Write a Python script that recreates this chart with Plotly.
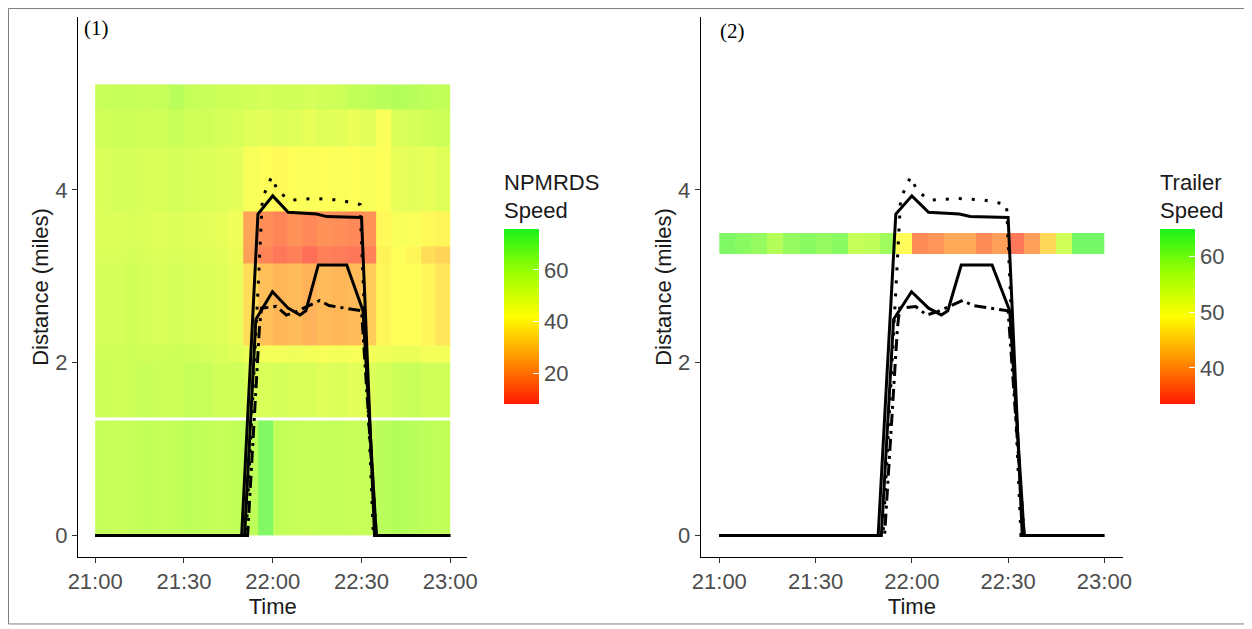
import pandas as pd
import plotly.graph_objects as go

# --- data -------------------------------------------------------------
day = "2019-06-01 "
bin_edges = pd.date_range(day + "21:00", day + "23:00", freq="5min")  # 24 five-minute bins

# NPMRDS segment boundaries (miles); the 1.33-1.37 strip is a gap between segments
seg_edges = [0, 1.33, 1.37, 2.0, 2.2, 3.15, 3.35, 3.75, 4.5, 4.93, 5.22]

npm_0_133 = [57, 56, 57, 58, 57, 58, 59, 58, 57, 58, 59, 71, 58, 57, 56, 57, 57, 56, 57, 60, 61, 60, 59, 58]
npm_gap = [None] * 24
npm_137_200 = [55, 54, 55, 56, 55, 55, 57, 56, 54, 54, 52, 52, 53, 52, 52, 50, 51, 49, 51, 53, 55, 56, 54, 54]
npm_200_220 = [54, 54, 55, 54, 54, 55, 54, 53, 52, 50, 47, 45, 45, 46, 45, 44, 45, 44, 45, 46, 47, 47, 45, 45]
npm_220_315 = [53, 53, 54, 53, 52, 53, 52, 51, 50, 48, 34, 27, 25, 26, 24, 26, 25, 26, 30, 40, 42, 42, 40, 36]
npm_315_335 = [52, 52, 53, 52, 51, 52, 51, 50, 49, 47, 20, 14, 11, 13, 9, 13, 12, 11, 13, 39, 42, 40, 34, 32]
npm_335_375 = [51, 51, 52, 51, 50, 51, 50, 49, 48, 46, 21, 16, 14, 17, 15, 17, 16, 15, 17, 41, 44, 43, 41, 40]
npm_375_450 = [52, 53, 53, 52, 52, 53, 52, 51, 50, 49, 44, 42, 41, 42, 43, 42, 43, 42, 44, 42, 48, 49, 48, 50]
npm_450_493 = [54, 55, 55, 54, 54, 56, 54, 54, 53, 52, 50, 49, 51, 50, 48, 50, 49, 47, 49, 43, 52, 53, 54, 55]
npm_493_522 = [56, 57, 57, 56, 57, 60, 57, 56, 55, 55, 54, 53, 54, 54, 53, 54, 55, 58, 59, 60, 61, 60, 59, 58]
npm_speed = [npm_0_133, npm_gap, npm_137_200, npm_200_220, npm_220_315,
             npm_315_335, npm_335_375, npm_375_450, npm_450_493, npm_493_522]
npm_range = [8, 76]

# trailer speeds, one row between 3.26 and 3.50 miles
trailer_edges = [3.26, 3.50]
trailer_speed = [63, 62, 61, 58, 61, 62, 61, 62, 56, 57, 60, 49, 37, 38, 40, 40, 37, 39, 35, 39, 45, 55, 64, 64]
trailer_range = [33.5, 65]

# probe trajectories (time of day, distance in miles)
traj1_t = ["21:00:00", "21:49:30", "21:55:00", "22:00:00", "22:05:12", "22:14:48", "22:18:12", "22:30:00", "22:34:24", "23:00:00"]
traj1_d = [0, 0, 3.72, 3.93, 3.74, 3.72, 3.69, 3.68, 0, 0]
traj2_t = ["21:00:00", "21:50:30", "21:54:18", "21:59:54", "22:05:12", "22:09:12", "22:11:12", "22:15:24", "22:25:00", "22:30:30", "22:35:00", "23:00:00"]
traj2_d = [0, 0, 2.5, 2.82, 2.63, 2.55, 2.6, 3.13, 3.13, 2.6, 0, 0]
traj3_t = ["21:00:00", "21:51:00", "21:56:30", "21:59:36", "22:01:48", "22:05:48", "22:14:12", "22:22:42", "22:29:30", "22:34:00", "23:00:00"]
traj3_d = [0, 0, 3.9, 4.15, 3.98, 3.88, 3.9, 3.88, 3.83, 0, 0]
traj4_t = ["21:00:00", "21:51:30", "21:55:30", "21:56:12", "22:01:12", "22:04:36", "22:08:00", "22:15:54", "22:19:00", "22:26:00", "22:30:00", "22:35:00", "23:00:00"]
traj4_d = [0, 0, 2.4, 2.63, 2.65, 2.55, 2.59, 2.72, 2.66, 2.62, 2.6, 0, 0]

trajectories = [
    (traj1_t, traj1_d, "solid"),
    (traj2_t, traj2_d, "solid"),
    (traj3_t, traj3_d, "3px,10px"),
    (traj4_t, traj4_d, "12px,5px,3px,5px"),
]

# --- figure -----------------------------------------------------------
ryg = [[0, "#FF1A00"], [0.25, "#FF9000"], [0.5, "#FFFF00"], [0.75, "#9CFF00"], [1, "#1AF21A"]]
tick_font = dict(family="Liberation Sans, Arial", size=22, color="#4D4D4D")
title_font = dict(family="Liberation Sans, Arial", size=22, color="#1A1A1A")


def cbar(title, x):
    return dict(
        title=dict(text=title, side="top", font=title_font),
        x=x, xanchor="left", xpad=0, y=0.5, yanchor="middle", ypad=0,
        len=234, lenmode="pixels", thickness=35, outlinewidth=0,
        ticks="inside", ticklen=6, tickcolor="white", tickwidth=1,
        tickfont=tick_font,
    )


fig = go.Figure()

fig.add_trace(go.Heatmap(
    x=bin_edges, y=seg_edges, z=npm_speed, colorscale=ryg,
    zmin=npm_range[0], zmax=npm_range[1], opacity=0.65,
    colorbar=cbar("NPMRDS<br>Speed", 0.4077), xaxis="x", yaxis="y",
))
fig.add_trace(go.Heatmap(
    x=bin_edges, y=trailer_edges, z=[trailer_speed], colorscale=ryg,
    zmin=trailer_range[0], zmax=trailer_range[1], opacity=0.65,
    colorbar=cbar("Trailer<br>Speed", 1.0354), xaxis="x2", yaxis="y2",
))

for ax in ["x", "x2"]:
    for t, d, dash in trajectories:
        fig.add_trace(go.Scatter(
            x=[day + s for s in t], y=d, mode="lines",
            line=dict(color="black", width=3, dash=dash),
            xaxis=ax, yaxis="y" if ax == "x" else "y2", showlegend=False,
        ))

xcommon = dict(
    type="date", range=[day + "20:54:12", day + "23:05:48"],
    tick0=day + "21:00", dtick=30 * 60 * 1000, tickformat="%H:%M",
    showline=True, linecolor="black", linewidth=1, showgrid=False, zeroline=False,
    ticks="outside", ticklen=5, tickcolor="#333333", tickfont=tick_font,
    title=dict(text="Time", font=title_font, standoff=4),
)
ycommon = dict(
    range=[-0.25, 6.0], tickvals=[0, 2, 4],
    showline=True, linecolor="black", linewidth=1, showgrid=False, zeroline=False,
    ticks="outside", ticklen=5, tickcolor="#333333", tickfont=tick_font,
    title=dict(text="Distance (miles)", font=title_font, standoff=0),
)

# the page body adds an 8px offset, so the figure is 8px smaller than the window
fig.update_layout(
    width=1244, height=621,
    margin=dict(l=70, r=129, t=9, b=72),
    paper_bgcolor="white", plot_bgcolor="white",
    showlegend=False,
    xaxis=dict(domain=[0, 0.3727], anchor="y", **xcommon),
    yaxis=dict(anchor="x", **ycommon),
    xaxis2=dict(domain=[0.5959, 1], anchor="y2", **xcommon),
    yaxis2=dict(anchor="x2", **ycommon),
    annotations=[
        dict(text="(1)", x=0.0038, y=0.98, xref="paper", yref="paper", xanchor="left", yanchor="middle",
             showarrow=False, font=dict(family="Liberation Serif, Times New Roman", size=21, color="black")),
        dict(text="(2)", x=0.6124, y=0.975, xref="paper", yref="paper", xanchor="left", yanchor="middle",
             showarrow=False, font=dict(family="Liberation Serif, Times New Roman", size=21, color="black")),
    ],
    shapes=[dict(type="rect", xref="paper", yref="paper", x0=-0.0665, x1=1.1206, y0=-0.124, y1=1.0157,
                 line=dict(color="#7F7F7F", width=1))],
)

fig.write_html("out.html")
